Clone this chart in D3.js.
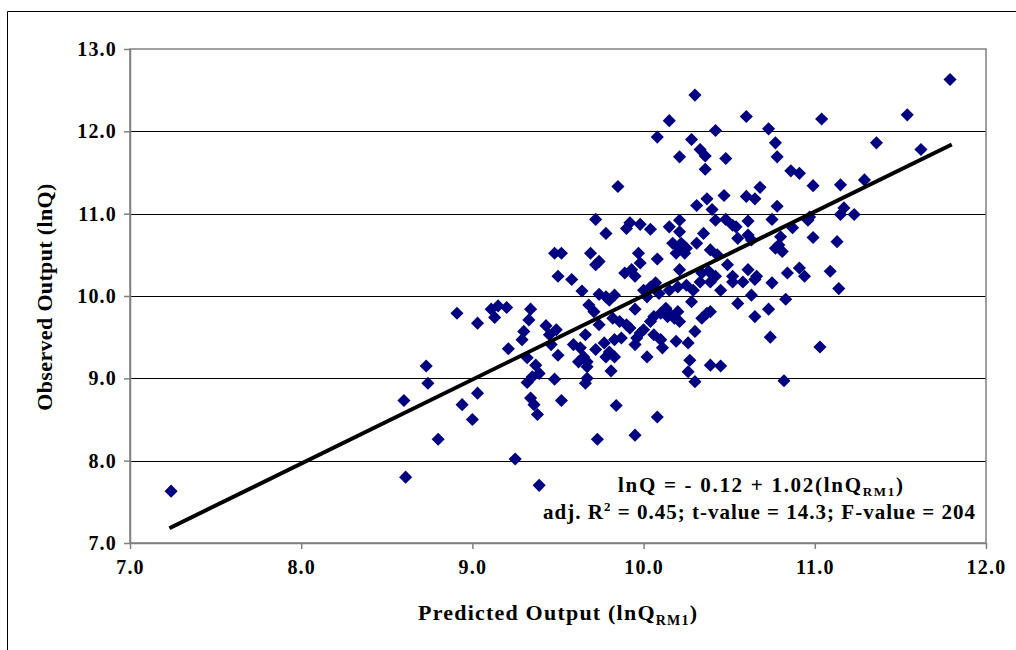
<!DOCTYPE html>
<html><head><meta charset="utf-8">
<script src="https://cdn.jsdelivr.net/npm/d3@7"></script>
<style>
html,body{margin:0;padding:0;background:#fff;}
svg{display:block;font-family:"Liberation Serif","Times New Roman",serif;font-weight:bold;}
</style></head><body>
<svg id="chart" width="1016" height="650"></svg>
<script>
// Predicted output (lnQ_RM1) for each observation
const predicted = [
7.24,8.60,8.61,8.73,8.74,8.80,
9.78,9.48,9.52,9.69,9.74,9.72,9.50,9.58,9.64,9.74,9.78,8.91,9.11,9.15,9.20,9.13,9.34,9.33,9.03,9.68,9.71,9.74,
9.43,9.49,9.45,9.46,9.30,9.29,9.66,9.21,9.59,9.63,9.65,9.67,9.62,9.67,9.72,9.32,9.50,9.37,9.39,9.35,9.32,9.48,
9.67,9.66,9.03,8.94,9.00,9.34,9.36,9.38,9.52,9.73,9.25,9.39,9.72,
10.30,10.15,10.60,10.42,10.08,10.28,10.33,10.36,10.21,10.48,10.36,9.85,10.31,10.37,10.47,10.60,10.65,10.68,
10.40,10.42,10.48,10.52,10.54,10.61,9.92,9.90,9.98,10.04,10.15,10.21,10.21,10.35,10.17,10.22,10.25,10.19,10.24,
10.21,10.31,10.39,10.43,10.55,10.61,10.63,9.97,9.98,10.08,10.21,10.49,9.89,9.93,9.95,10.34,10.38,10.42,10.61,10.66,10.52,
9.83,9.80,10.00,10.04,10.07,10.02,10.09,10.15,10.20,10.25,10.29,10.33,10.39,10.45,10.52,10.58,10.65,10.63,10.55,10.28,10.65,
9.95,9.82,9.86,9.90,9.92,10.13,10.10,10.06,10.04,10.15,10.20,10.18,10.21,10.14,10.34,10.37,10.39,10.30,10.00,9.98,9.96,9.95,
10.06,10.10,10.11,10.19,10.26,9.77,9.83,9.87,9.80,9.83,9.78,10.02,10.27,10.26,10.30,10.39,10.45,9.81,9.84,10.08,9.95,
11.79,11.04,11.54,10.73,10.77,10.78,11.36,11.62,10.86,10.91,10.99,11.15,11.29,10.78,11.17,11.15,11.23,10.97,10.96,10.75,
10.87,10.99,11.13,10.80,10.77,10.81,10.79,10.84,10.91,10.94,11.09,10.75,11.14,
10.83,10.73,10.74,11.03,10.82
];
// Observed output (lnQ) for each observation
const observed = [
7.63,8.73,7.80,9.15,8.94,8.26,
10.76,10.52,10.52,10.52,10.42,10.38,10.24,10.20,10.06,10.02,9.99,9.79,9.84,9.88,9.86,9.74,9.84,9.71,9.67,9.89,9.81,9.65,
9.64,9.59,9.53,9.41,9.57,9.47,9.53,9.36,9.41,9.37,9.26,9.20,9.20,9.14,9.35,9.25,9.28,9.16,9.06,9.02,8.95,8.99,
9.00,8.94,8.82,8.68,8.50,8.76,8.68,8.56,8.73,8.26,8.02,7.70,10.93,
12.44,12.13,12.18,12.01,11.93,11.90,11.78,11.70,11.69,11.67,11.54,11.33,11.10,11.18,11.22,11.21,11.18,11.32,
11.05,10.92,10.93,10.86,10.84,10.91,10.89,10.82,10.87,10.81,10.84,10.92,10.78,10.76,10.64,10.64,10.58,10.52,10.52,
10.58,10.64,10.56,10.50,10.70,10.74,10.68,10.52,10.40,10.45,10.32,10.38,10.28,10.32,10.24,10.28,10.30,10.24,10.32,10.24,10.24,
10.01,9.95,10.07,10.11,10.16,9.99,10.03,10.07,10.11,10.13,10.07,10.17,10.17,10.07,10.17,10.17,10.20,10.01,9.91,9.93,9.75,
9.84,9.73,9.69,9.65,9.61,9.85,9.79,9.75,9.69,9.79,9.81,9.73,9.69,9.75,9.73,9.79,9.81,9.57,9.59,9.55,9.49,9.41,
9.53,9.47,9.37,9.45,9.43,9.43,9.47,9.49,9.32,9.26,9.26,9.26,9.22,9.08,8.96,9.16,9.15,9.09,8.67,8.53,8.31,
12.63,12.15,12.20,12.03,11.86,11.69,11.86,11.78,11.52,11.49,11.34,11.35,11.41,11.09,11.07,10.99,10.99,10.96,10.92,10.93,
10.83,10.71,10.66,10.72,10.58,10.54,10.62,10.28,10.34,10.24,10.30,10.16,10.09,
9.96,9.84,9.50,9.38,8.97
];
// Fitted regression line end points
const fitX = [7.23, 11.80];
const fitY = [7.18, 11.84];

const xTicks = [7, 8, 9, 10, 11, 12];
const yTicks = [7, 8, 9, 10, 11, 12, 13];
const xTitle = "Predicted Output (lnQ";
const xTitleSub = "RM1";
const yTitle = "Observed Output (lnQ)";
const eqLine = ["lnQ =  - 0.12 + 1.02(lnQ", "RM1", ")"];
const statLine = ["adj. R", "2", " = 0.45; t-value = 14.3; F-value = 204"];

const svg = d3.select("#chart");
const L = 130, R = 986, T = 49, B = 543;
const x = d3.scaleLinear().domain([7, 12]).range([L, R]);
const y = d3.scaleLinear().domain([7, 13]).range([B, T]);
const fmt = d3.format(".1f");

// outer chart frame (left and top edges visible)
svg.append("path").attr("d", "M7.5,650 V11.5 H1016")
  .attr("fill", "none").attr("stroke", "#000").attr("stroke-width", 1);

// gridlines
svg.append("g").selectAll("line").data(yTicks.slice(1, -1)).join("line")
  .attr("x1", L).attr("x2", R)
  .attr("y1", d => Math.round(y(d)) + 0.5).attr("y2", d => Math.round(y(d)) + 0.5)
  .attr("stroke", "#000").attr("stroke-width", 1);

// plot border
svg.append("rect").attr("x", L).attr("y", T).attr("width", R - L).attr("height", B - T)
  .attr("fill", "none").attr("stroke", "#808080").attr("stroke-width", 1.5);

// axes
const yAxis = svg.append("g").attr("transform", `translate(${L},0)`)
  .call(d3.axisLeft(y).tickValues(yTicks).tickFormat(fmt).tickSize(6).tickSizeOuter(0).tickPadding(7));
const xAxis = svg.append("g").attr("transform", `translate(0,${B})`)
  .call(d3.axisBottom(x).tickValues(xTicks).tickFormat(fmt).tickSize(6).tickSizeOuter(0).tickPadding(11));
[yAxis, xAxis].forEach(g => {
  g.select(".domain").attr("stroke", "#808080").attr("stroke-width", 1.5);
  g.selectAll(".tick line").attr("stroke", "#808080").attr("stroke-width", 1.5);
  g.selectAll(".tick text").attr("fill", "#000")
    .style("font-family", '"Liberation Serif","Times New Roman",serif')
    .style("font-weight", "bold").style("font-size", "20px").attr("letter-spacing", 1.2);
});

// points (diamonds)
const pts = predicted.map((p, i) => ({p, o: observed[i]}));
const diamond = d3.symbol().type(d3.symbolSquare).size(86);
svg.append("g").selectAll("path").data(pts).join("path")
  .attr("d", diamond)
  .attr("transform", d => `translate(${x(d.p)},${y(d.o)}) rotate(45)`)
  .attr("fill", "#000080");

// regression line
svg.append("path")
  .datum(fitX.map((v, i) => [v, fitY[i]]))
  .attr("d", d3.line().x(d => x(d[0])).y(d => y(d[1])))
  .attr("stroke", "#000").attr("stroke-width", 4).attr("fill", "none");

function fit(sel, target) {
  const n = sel.node();
  const w = n.getComputedTextLength();
  const c = n.getNumberOfChars();
  sel.attr("letter-spacing", (target - w) / Math.max(1, c - 1));
}

// x title
const xt = svg.append("text").attr("x", 418).attr("y", 620).style("font-size", "22px");
xt.append("tspan").text(xTitle);
xt.append("tspan").attr("dy", 5).style("font-size", "14px").text(xTitleSub);
xt.append("tspan").attr("dy", -5).text(")");
fit(xt, 279);

// y title
const yt = svg.append("text").attr("text-anchor", "middle")
  .attr("transform", "translate(52,297) rotate(-90)").style("font-size", "22px").text(yTitle);
fit(yt, 227);

// equation annotation
const e1 = svg.append("text").attr("x", 618).attr("y", 492).style("font-size", "21px");
e1.append("tspan").text(eqLine[0]);
e1.append("tspan").attr("dy", 4).style("font-size", "13px").text(eqLine[1]);
e1.append("tspan").attr("dy", -4).text(eqLine[2]);
fit(e1, 285);

const e2 = svg.append("text").attr("x", 543).attr("y", 519).style("font-size", "21px");
e2.append("tspan").text(statLine[0]);
e2.append("tspan").attr("dy", -8).style("font-size", "13px").text(statLine[1]);
e2.append("tspan").attr("dy", 8).text(statLine[2]);
fit(e2, 432);
</script>
</body></html>
